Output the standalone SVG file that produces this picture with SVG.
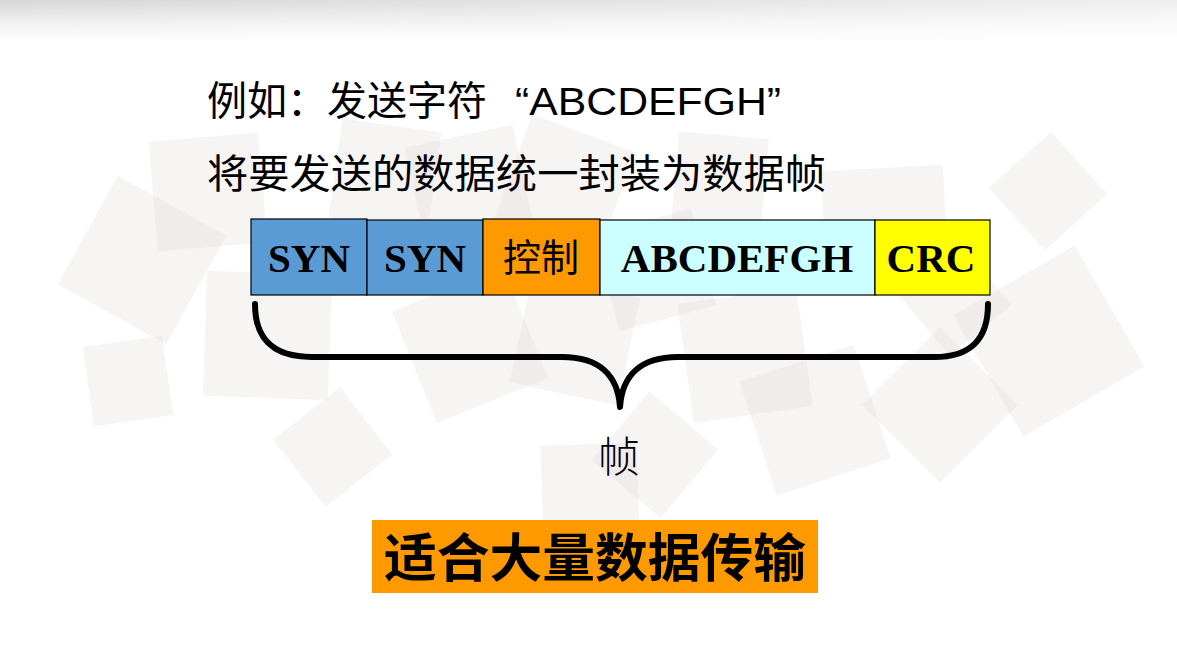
<svg xmlns="http://www.w3.org/2000/svg" width="1177" height="646" viewBox="0 0 1177 646">
  <defs>
    <linearGradient id="topShade" x1="0" y1="0" x2="0" y2="1">
      <stop offset="0" stop-color="#d6d6d6"/>
      <stop offset="0.55" stop-color="#f1f1f1"/>
      <stop offset="1" stop-color="#ffffff"/>
    </linearGradient>
    <linearGradient id="topFade" x1="0" y1="0" x2="1" y2="0">
      <stop offset="0" stop-color="#ffffff" stop-opacity="0"/>
      <stop offset="1" stop-color="#ffffff" stop-opacity="0.6"/>
    </linearGradient>
    <style>
      .tile { fill: #e6dddd; opacity: 0.32; }
      .cell { stroke: #000000; stroke-width: 1.2; }
      .latin { font-family: "Liberation Serif", "Times New Roman", serif; font-weight: bold; font-size: 41px; fill: #000000; text-anchor: middle; }
      .cjk { font-family: "Noto Sans CJK SC", sans-serif; fill: #000000; }
      .heading { font-family: "Noto Sans CJK SC", sans-serif; font-size: 40px; fill: #000000; }
      .heading-latin { font-family: "Liberation Sans", Arial, sans-serif; font-size: 38px; fill: #000000; }
      .brace { fill: none; stroke: #000000; stroke-width: 6; stroke-linecap: round; stroke-linejoin: round; }
    </style>
  </defs>

  <!-- page background -->
  <rect x="0" y="0" width="1177" height="646" fill="#ffffff"/>
  <rect x="0" y="0" width="1177" height="42" fill="url(#topShade)"/>
  <rect x="0" y="0" width="1177" height="42" fill="url(#topFade)"/>

  <!-- scattered translucent tiles -->
  <g id="tiles">
    <rect class="tile" x="-62" y="-62" width="124" height="124" transform="translate(142 260) rotate(29)"/>
    <rect class="tile" x="-55" y="-55" width="110" height="110" transform="translate(208 192) rotate(-5)"/>
    <rect class="tile" x="-40" y="-40" width="80" height="80" transform="translate(128 381) rotate(-8)"/>
    <rect class="tile" x="-62" y="-62" width="125" height="125" transform="translate(267 335) rotate(2)"/>
    <rect class="tile" x="-42" y="-42" width="85" height="85" transform="translate(332 447) rotate(-38)"/>
    <rect class="tile" x="-60" y="-60" width="120" height="120" transform="translate(470 345) rotate(-22)"/>
    <rect class="tile" x="-55" y="-55" width="110" height="110" transform="translate(470 190) rotate(-12)"/>
    <rect class="tile" x="-50" y="-50" width="100" height="100" transform="translate(385 175) rotate(8)"/>
    <rect class="tile" x="-55" y="-55" width="110" height="110" transform="translate(565 185) rotate(20)"/>
    <rect class="tile" x="-50" y="-50" width="100" height="100" transform="translate(655 270) rotate(-15)"/>
    <rect class="tile" x="-55" y="-55" width="110" height="110" transform="translate(575 340) rotate(12)"/>
    <rect class="tile" x="-48" y="-48" width="96" height="96" transform="translate(590 492) rotate(-2)"/>
    <rect class="tile" x="-45" y="-45" width="90" height="90" transform="translate(655 455) rotate(40)"/>
    <rect class="tile" x="-60" y="-60" width="120" height="120" transform="translate(745 355) rotate(-8)"/>
    <rect class="tile" x="-60" y="-60" width="120" height="120" transform="translate(815 420) rotate(-18)"/>
    <rect class="tile" x="-60" y="-60" width="122" height="122" transform="translate(884 228) rotate(-3)"/>
    <rect class="tile" x="-45" y="-45" width="90" height="90" transform="translate(720 180) rotate(5)"/>
    <rect class="tile" x="-42" y="-42" width="84" height="84" transform="translate(1048 191) rotate(-42)"/>
    <rect class="tile" x="-70" y="-70" width="140" height="140" transform="translate(1049 341) rotate(-30)"/>
    <rect class="tile" x="-55" y="-55" width="110" height="110" transform="translate(940 405) rotate(-45)"/>
    <rect class="tile" x="-40" y="-40" width="80" height="80" transform="translate(955 300) rotate(-40)"/>
  </g>

  <!-- heading lines -->
  <g id="heading">
    <text class="heading" x="207" y="115">例如：发送字符</text>
    <text class="heading-latin" x="515" y="115" textLength="266" lengthAdjust="spacingAndGlyphs">“ABCDEFGH”</text>
    <text class="heading" x="207" y="188" textLength="619" lengthAdjust="spacingAndGlyphs">将要发送的数据统一封装为数据帧</text>
  </g>

  <!-- frame fields -->
  <g id="field-syn1">
    <rect class="cell" x="251" y="219" width="116" height="76" fill="#5b9bd5"/>
    <text class="latin" x="309" y="272">SYN</text>
  </g>
  <g id="field-syn2">
    <rect class="cell" x="367" y="220" width="116" height="75" fill="#5b9bd5"/>
    <text class="latin" x="425" y="272">SYN</text>
  </g>
  <g id="field-control">
    <rect class="cell" x="483" y="219" width="117" height="76" fill="#ff9900"/>
    <text class="cjk" x="541" y="271" font-size="38" text-anchor="middle">控制</text>
  </g>
  <g id="field-data">
    <rect class="cell" x="600" y="220" width="275" height="75" fill="#ccffff"/>
    <text class="latin" x="737" y="272">ABCDEFGH</text>
  </g>
  <g id="field-crc">
    <rect class="cell" x="875" y="220" width="115" height="75" fill="#ffff00"/>
    <text class="latin" x="931" y="272">CRC</text>
  </g>

  <!-- brace spanning the whole frame -->
  <g id="connectors">
    <path class="brace" d="M255,304 C255,338 272,357 312,357 L562,357 C600,357 618,376 620,407 C622,376 640,357 678,357 L934,357 C972,357 988,338 988,304"/>
  </g>

  <g id="frame-label">
    <text class="cjk" x="619" y="472" font-size="42" font-weight="300" text-anchor="middle">帧</text>
  </g>

  <g id="summary">
    <rect x="372" y="520" width="446" height="73" fill="#ff9900"/>
    <text class="cjk" x="595" y="577" font-size="52" font-weight="bold" text-anchor="middle" textLength="422" lengthAdjust="spacingAndGlyphs">适合大量数据传输</text>
  </g>
</svg>
